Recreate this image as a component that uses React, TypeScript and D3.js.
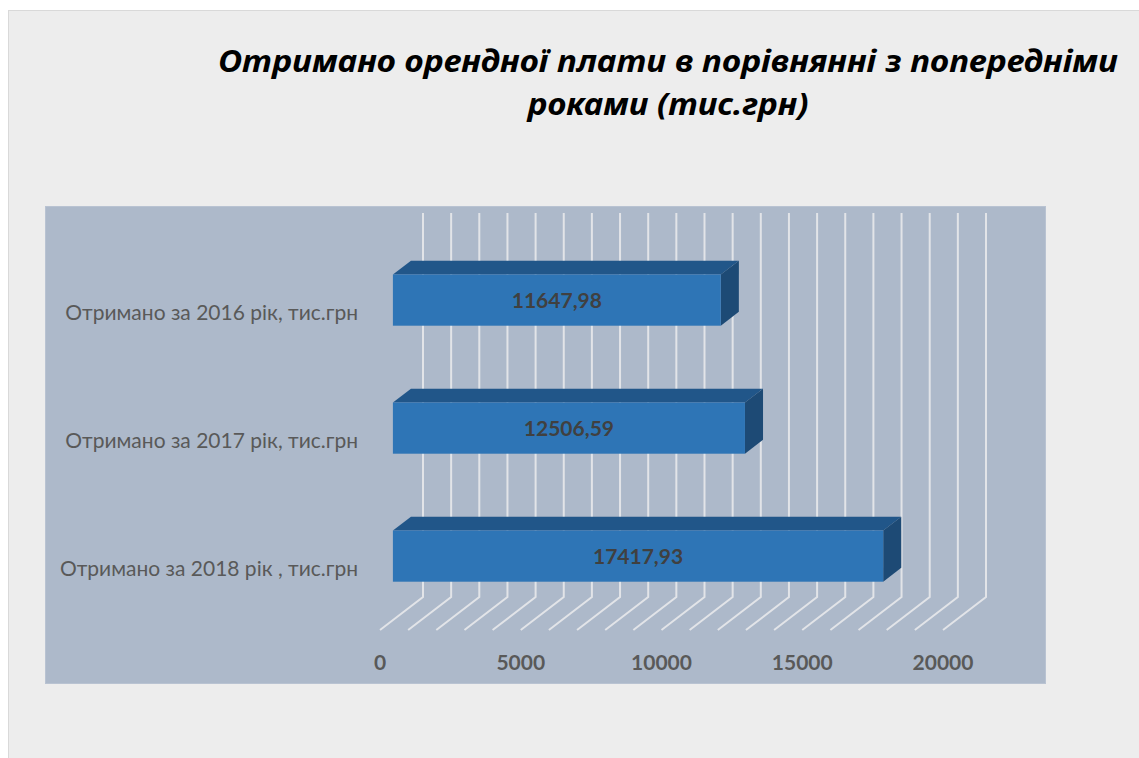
import React from "react";
import * as d3 from "d3";

const titleLines = ["Отримано орендної плати в порівнянні з попередніми", "роками (тис.грн)"];
const categories = [
  "Отримано за 2016 рік, тис.грн",
  "Отримано за 2017 рік, тис.грн",
  "Отримано за 2018 рік , тис.грн",
];
const values = [11647.98, 12506.59, 17417.93];
const tickValues = [0, 5000, 10000, 15000, 20000];
const gridStep = 1000;
const axisMax = 20000;

const W = 1139;
const H = 758;
// oblique depth of the 3D floor
const DX = 43;
const DY = 33;
const T0 = 0.3; // bar front face depth fraction
const T1 = 0.72; // bar back face depth fraction

export default function App() {
  const x = d3.scaleLinear().domain([0, axisMax]).range([380, 943]);
  const y = d3
    .scaleBand<string>()
    .domain(categories)
    .range([246, 630])
    .paddingInner(0.6)
    .paddingOuter(0.3);
  const gridValues = d3.range(0, axisMax + 1, gridStep);
  const floorY = 630;
  const wallTop = 246 - DY;
  const wallBottom = floorY - DY;
  const fmt = (v: number) => v.toFixed(2).replace(".", ",");

  const fdx = T0 * DX;
  const fdy = T0 * DY;
  const bdx = (T1 - T0) * DX;
  const bdy = (T1 - T0) * DY;

  return (
    <svg
      width={W}
      height={H}
      style={{ position: "absolute", left: 0, top: 0 }}
      xmlns="http://www.w3.org/2000/svg"
    >
      <rect x={0} y={0} width={W} height={H} fill="#ffffff" />
      <rect x={8.5} y={10.5} width={W} height={H} fill="#EDEDED" stroke="#D9D9D9" strokeWidth={1} />
      {titleLines.map((t, i) => (
        <text
          key={i}
          x={668}
          y={72 + i * 43}
          textAnchor="middle"
          fontFamily="'Noto Sans', 'Open Sans', sans-serif"
          fontWeight="bold"
          fontStyle="italic"
          fontSize={31}
          fill="#000000"
          textLength={i === 0 ? 900 : 281}
          lengthAdjust="spacingAndGlyphs"
        >
          {t}
        </text>
      ))}
      <rect x={45.5} y={206.5} width={1000} height={477} fill="#ADB9CA" stroke="#B9C3D2" strokeWidth={1} />
      {/* back wall vertical gridlines and floor diagonals */}
      {gridValues.map((v) => {
        const xb = x(v) + DX;
        return (
          <polyline
            key={v}
            points={`${xb},${wallTop} ${xb},${wallBottom} ${x(v)},${floorY}`}
            fill="none"
            stroke="#E2E4E8"
            strokeWidth={2}
          />
        );
      })}
      {/* bars */}
      {categories.map((c, i) => {
        const x0 = x(0) + fdx;
        const x1 = x(values[i]) + fdx;
        const yt = (y(c) as number) - fdy;
        const h = y.bandwidth();
        return (
          <g key={c}>
            <polygon
              points={`${x0},${yt} ${x1},${yt} ${x1 + bdx},${yt - bdy} ${x0 + bdx},${yt - bdy}`}
              fill="#215689"
            />
            <polygon
              points={`${x1},${yt} ${x1 + bdx},${yt - bdy} ${x1 + bdx},${yt - bdy + h} ${x1},${yt + h}`}
              fill="#1D4A75"
            />
            <rect x={x0} y={yt} width={x1 - x0} height={h} fill="#2E75B6" />
            <text
              x={(x0 + x1) / 2}
              y={yt + h / 2}
              dy="0.36em"
              textAnchor="middle"
              fontFamily="Lato, 'Open Sans', sans-serif"
              fontWeight="bold"
              fontSize={21}
              fill="#404040"
            >
              {fmt(values[i])}
            </text>
          </g>
        );
      })}
      {/* category labels */}
      {categories.map((c) => (
        <text
          key={c}
          x={358}
          y={(y(c) as number) + y.bandwidth() / 2 + 2}
          dy="0.36em"
          textAnchor="end"
          fontFamily="Lato, 'Open Sans', sans-serif"
          fontSize={21}
          fill="#595959"
        >
          {c}
        </text>
      ))}
      {/* value axis tick labels */}
      {tickValues.map((v) => (
        <text
          key={v}
          x={x(v)}
          y={662}
          dy="0.36em"
          textAnchor="middle"
          fontFamily="Lato, 'Open Sans', sans-serif"
          fontWeight="bold"
          fontSize={21}
          fill="#595959"
        >
          {v}
        </text>
      ))}
    </svg>
  );
}
